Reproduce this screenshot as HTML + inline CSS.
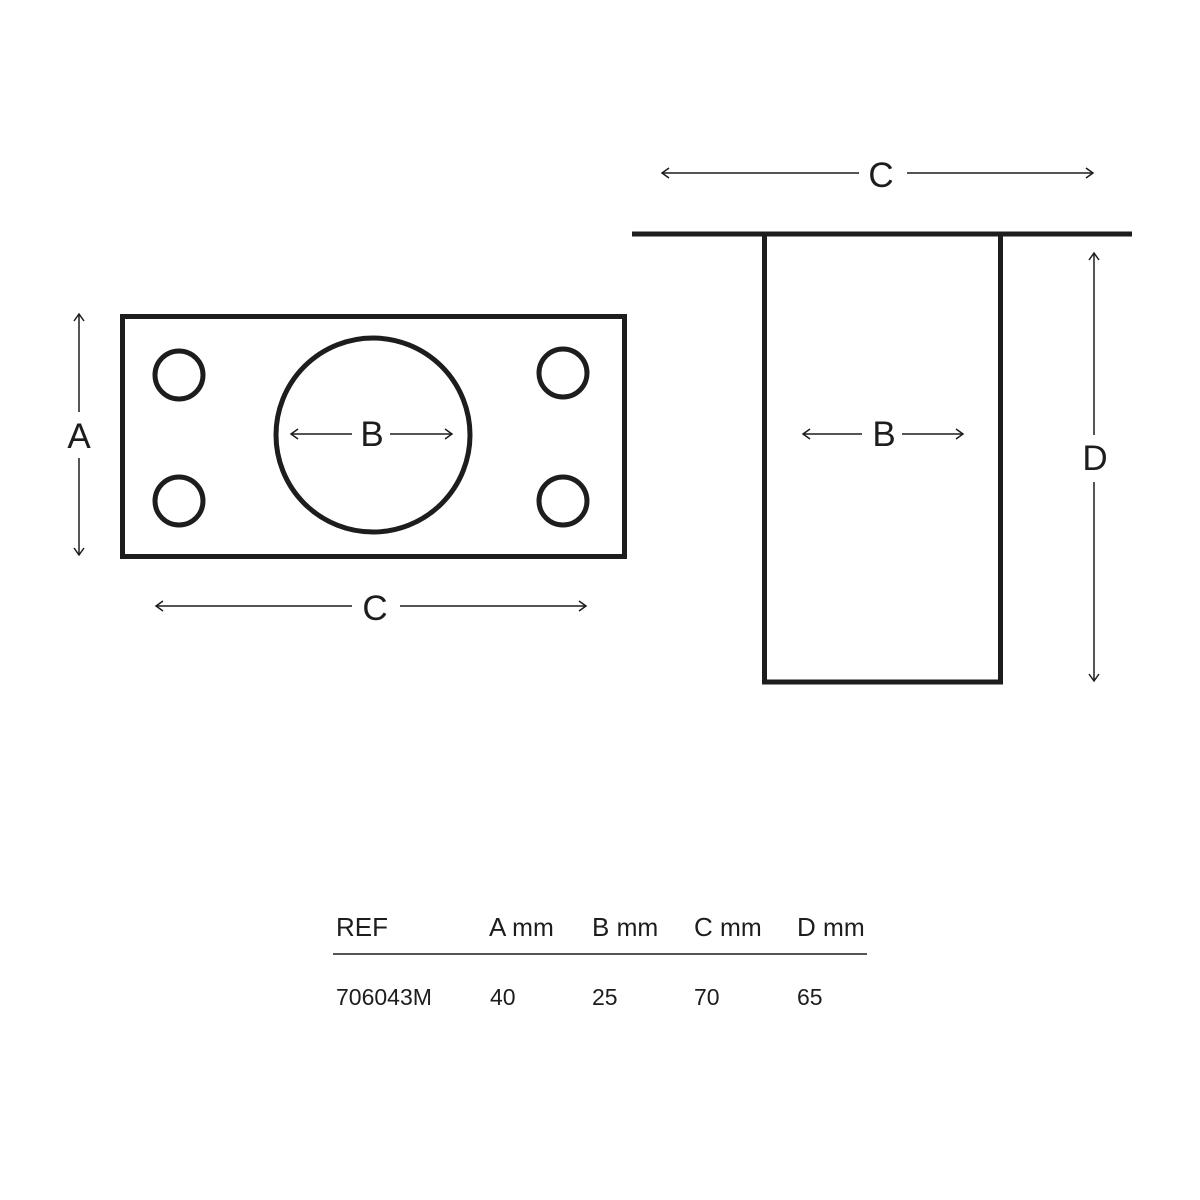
<!DOCTYPE html>
<html><head><meta charset="utf-8"><style>
html,body{margin:0;padding:0;background:#fff;}
svg{display:block}
text{font-family:"Liberation Sans",sans-serif;fill:#1d1d1b;}
</style></head><body>
<svg width="1200" height="1200" viewBox="0 0 1200 1200" xmlns="http://www.w3.org/2000/svg">
<g fill="none" stroke="#1d1d1b" stroke-width="5">
<rect x="122.5" y="316.5" width="502" height="240"/>
<circle cx="179" cy="375" r="24"/>
<circle cx="563" cy="373" r="24"/>
<circle cx="179" cy="501" r="24"/>
<circle cx="563" cy="501" r="24"/>
<circle cx="373" cy="435" r="97"/>
<line x1="632" y1="234" x2="1132" y2="234"/>
<polyline points="764.5,234 764.5,682 1000.5,682 1000.5,234"/>
</g>
<g fill="none" stroke="#1d1d1b" stroke-width="1.5">
<line x1="79" y1="314" x2="79" y2="412"/><line x1="79" y1="458" x2="79" y2="555"/>
<polyline points="74,321 79,314 84,321"/><polyline points="74,548 79,555 84,548"/>
<line x1="156" y1="606" x2="352" y2="606"/><line x1="400" y1="606" x2="586" y2="606"/>
<polyline points="163,601 156,606 163,611"/><polyline points="579,601 586,606 579,611"/>
<line x1="291" y1="434" x2="352" y2="434"/><line x1="390" y1="434" x2="452" y2="434"/>
<polyline points="298,429 291,434 298,439"/><polyline points="445,429 452,434 445,439"/>
<line x1="662" y1="173" x2="859" y2="173"/><line x1="907" y1="173" x2="1093" y2="173"/>
<polyline points="669,168 662,173 669,178"/><polyline points="1086,168 1093,173 1086,178"/>
<line x1="803" y1="434" x2="862" y2="434"/><line x1="902" y1="434" x2="963" y2="434"/>
<polyline points="810,429 803,434 810,439"/><polyline points="956,429 963,434 956,439"/>
<line x1="1094" y1="253" x2="1094" y2="435"/><line x1="1094" y1="482" x2="1094" y2="681"/>
<polyline points="1089,260 1094,253 1099,260"/><polyline points="1089,674 1094,681 1099,674"/>
<line x1="333" y1="954" x2="867" y2="954"/>
</g>
<g font-size="35" text-anchor="middle">
<text x="79" y="448">A</text>
<text x="375" y="620">C</text>
<text x="372" y="446">B</text>
<text x="881" y="187">C</text>
<text x="884" y="446">B</text>
<text x="1095" y="470">D</text>
</g>
<g font-size="26">
<text x="336" y="936">REF</text>
<text x="489" y="936">A <tspan font-size="25">mm</tspan></text>
<text x="592" y="936">B <tspan font-size="25">mm</tspan></text>
<text x="694" y="936">C <tspan font-size="25">mm</tspan></text>
<text x="797" y="936">D <tspan font-size="25">mm</tspan></text>
</g>
<g font-size="23">
<text x="336" y="1005">706043M</text>
<text x="490" y="1005">40</text>
<text x="592" y="1005">25</text>
<text x="694" y="1005">70</text>
<text x="797" y="1005">65</text>
</g>
</svg>
</body></html>
